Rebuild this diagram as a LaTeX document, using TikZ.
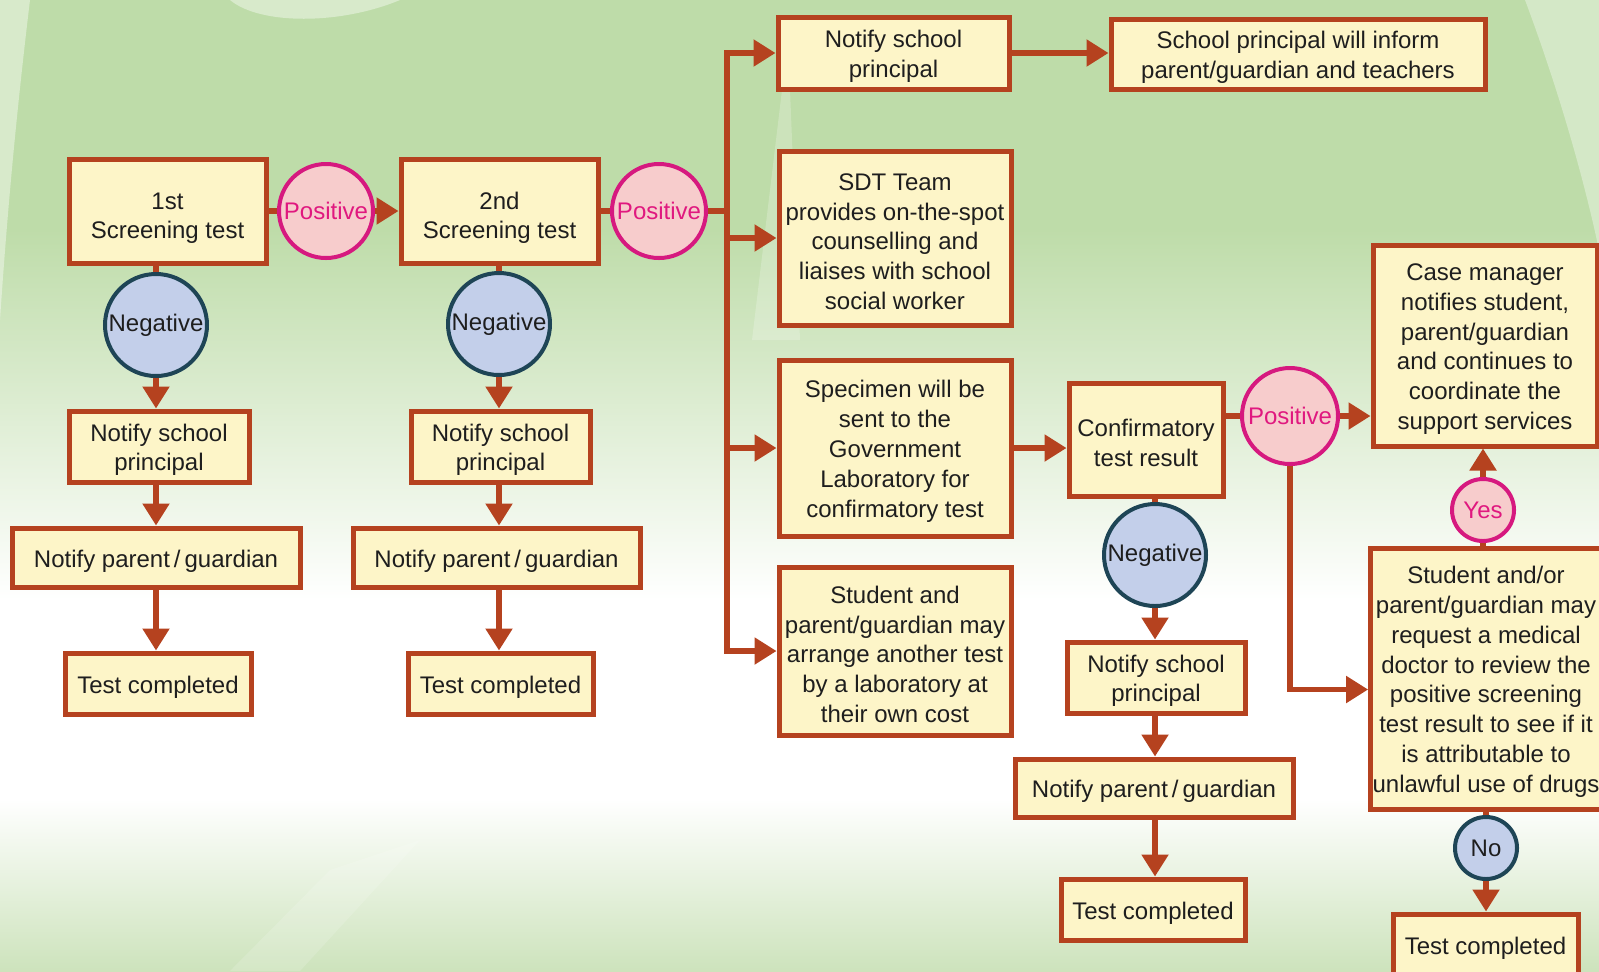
\documentclass[tikz,border=0pt]{standalone}
\usepackage{fontspec}
\setmainfont{Liberation Sans}
\usetikzlibrary{arrows.meta,shapes.geometric}
\definecolor{boxred}{HTML}{B5421F}
\definecolor{boxfill}{HTML}{FDF5C8}
\definecolor{posf}{HTML}{F7CCCC}
\definecolor{posb}{HTML}{D6197F}
\definecolor{post}{HTML}{E0187F}
\definecolor{negf}{HTML}{C3CFEA}
\definecolor{negb}{HTML}{1E4556}
\definecolor{txt}{HTML}{1E1E1E}
\definecolor{bggreen}{HTML}{BEDCA9}
\definecolor{bgbottom}{HTML}{CDE3BC}
\newcommand\boxfont{\fontsize{12}{14.9}\selectfont}
\newcommand\topstrut{\rule{0pt}{12pt}}
\newcommand\bigstrut{\rule{0pt}{15.5pt}}
\begin{document}
\begin{tikzpicture}[x=0.5pt,y=-0.5pt,
  box/.style={draw=boxred, line width=2.5pt, fill=boxfill, align=center, inner sep=1pt, font=\boxfont, text=txt},
  boxsz/.style 2 args={minimum width=#1*0.5pt, minimum height=#2*0.5pt},
  posc/.style={circle, draw=posb, line width=2pt, fill=posf, text=post, inner sep=0pt, font=\boxfont},
  negc/.style={circle, draw=negb, line width=2pt, fill=negf, text=txt, inner sep=0pt, font=\boxfont},
  conn/.style={draw=boxred, line width=2.6pt},
  arr/.style={conn, -{Triangle[length=11pt,width=13pt]}}]
\useasboundingbox (0,0) rectangle (1599,971);
% background
\fill[bggreen] (0,0) rectangle (1599,230);
\shade[top color=bggreen, bottom color=white] (0,229) rectangle (1599,600);
\fill[white] (0,599) rectangle (1599,800);
\shade[top color=white, bottom color=bgbottom] (0,799) rectangle (1599,971);
% glare
\fill[white, opacity=0.4] (0,0) -- (30,0) .. controls (18,100) and (8,200) .. (0,320) -- cycle;
\fill[white, opacity=0.35] (1599,0) -- (1525,0) .. controls (1555,80) and (1582,170) .. (1599,250) -- cycle;
\fill[white, opacity=0.4] (230,0) .. controls (260,25) and (340,25) .. (400,0) -- cycle;
\fill[white, opacity=0.22] (782,90) -- (790,90) -- (800,340) -- (752,340) -- cycle;
\fill[white, opacity=0.15] (230,971) -- (330,870) -- (420,840) -- (300,971) -- cycle;

% nodes
\node[box, boxsz={197}{104}] (s1) at (167.5,211) {\bigstrut 1st\\Screening test};
\node[posc, minimum size=47pt] (pos1) at (326,211) {Positive};
\node[box, boxsz={197}{104}] (s2) at (499.5,211) {\bigstrut 2nd\\Screening test};
\node[posc, minimum size=47pt] (pos2) at (659,211) {Positive};
\coordinate (trunk) at (727,211);
\node[box, boxsz={231}{72}] (np0) at (893.5,53) {\topstrut Notify school\\principal};
\node[box, boxsz={374}{70}] (inform) at (1298,54) {\topstrut School principal will inform\\parent/guardian and teachers};
\node[box, boxsz={232}{174}] (sdt) at (895,238) {\topstrut SDT Team\\provides on-the-spot\\counselling and\\liaises with school\\social worker};
\node[box, boxsz={232}{176}] (spec) at (895,448) {\topstrut Specimen will be\\sent to the\\Government\\Laboratory for\\confirmatory test};
\node[box, boxsz={232}{168}] (stud) at (895,651) {\topstrut Student and\\parent/guardian may\\arrange another test\\by a laboratory at\\their own cost};
\node[box, boxsz={154}{113}] (conf) at (1146,439.5) {\topstrut Confirmatory\\test result};
\node[posc, minimum size=48pt] (pos3) at (1290,416) {Positive};
\node[box, boxsz={224}{201}] (case) at (1485,345.5) {\topstrut Case manager\\notifies student,\\parent/guardian\\and continues to\\coordinate the\\support services};
\node[posc, minimum size=31pt] (yes) at (1483,510) {Yes};
\node[box, boxsz={230}{261}] (req) at (1486,678.5) {\topstrut Student and/or\\parent/guardian may\\request a medical\\doctor to review the\\positive screening\\test result to see if it\\is attributable to\\unlawful use of drugs};
\node[negc, minimum size=31pt] (no) at (1486,848) {No};
\node[box, boxsz={185}{61}] (t4) at (1485.5,944.5) {\topstrut Test completed};

\node[negc, minimum size=51pt] (neg1) at (156,325) {Negative};
\node[box, boxsz={180}{71}] (n1) at (159,446.5) {\topstrut Notify school\\principal};
\node[box, boxsz={288}{59}] (p1) at (156,557.5) {\topstrut Notify parent\,/\,guardian};
\node[box, boxsz={186}{61}] (t1) at (158,683.5) {\topstrut Test completed};

\node[negc, minimum size=51pt] (neg2) at (499,324) {Negative};
\node[box, boxsz={179}{71}] (n2) at (500.5,446.5) {\topstrut Notify school\\principal};
\node[box, boxsz={287}{59}] (p2) at (496.5,557.5) {\topstrut Notify parent\,/\,guardian};
\node[box, boxsz={185}{61}] (t2) at (500.5,683.5) {\topstrut Test completed};

\node[negc, minimum size=51pt] (neg3) at (1155,555) {Negative};
\node[box, boxsz={178}{71}] (n3) at (1156,677.5) {\topstrut Notify school\\principal};
\node[box, boxsz={278}{58}] (p3) at (1154,788) {\topstrut Notify parent\,/\,guardian};
\node[box, boxsz={184}{61}] (t3) at (1153,909.5) {\topstrut Test completed};

% connectors
\draw[conn] (s1.east) -- (pos1.west);
\draw[arr] (pos1.east) -- (s2.west);
\draw[conn] (s2.east) -- (pos2.west);
\draw[conn] (pos2.east) -- (trunk);
\draw[arr] (trunk) |- (np0.west);
\draw[arr] (trunk) |- (stud.west);
\draw[arr] (trunk |- sdt.west) -- (sdt.west);
\draw[arr] (trunk |- spec.west) -- (spec.west);
\draw[arr] (np0.east) -- (np0.east -| inform.west);
\draw[arr] (spec.east) -- (spec.east -| conf.west);
\draw[conn] (pos3.west -| conf.east) -- (pos3.west);
\draw[arr] (pos3.east) -- (pos3.east -| case.west);
\draw[arr] (pos3.south) |- ([yshift=-5.5pt]req.west);
\draw[conn] (yes.south) -- (yes.south |- req.north);
\draw[arr] (yes.north) -- (yes.north |- case.south);
\draw[conn] (no.north) -- (no.north |- req.south);
\draw[arr] (no.south) -- (no.south |- t4.north);

\draw[conn] (neg1.north) -- (neg1.north |- s1.south);
\draw[arr] (neg1.south) -- (neg1.south |- n1.north);
\draw[arr] (neg1.south |- n1.south) -- (neg1.south |- p1.north);
\draw[arr] (neg1.south |- p1.south) -- (neg1.south |- t1.north);

\draw[conn] (neg2.north) -- (neg2.north |- s2.south);
\draw[arr] (neg2.south) -- (neg2.south |- n2.north);
\draw[arr] (neg2.south |- n2.south) -- (neg2.south |- p2.north);
\draw[arr] (neg2.south |- p2.south) -- (neg2.south |- t2.north);

\draw[conn] (neg3.north) -- (neg3.north |- conf.south);
\draw[arr] (neg3.south) -- (neg3.south |- n3.north);
\draw[arr] (neg3.south |- n3.south) -- (neg3.south |- p3.north);
\draw[arr] (neg3.south |- p3.south) -- (neg3.south |- t3.north);
\end{tikzpicture}
\end{document}
